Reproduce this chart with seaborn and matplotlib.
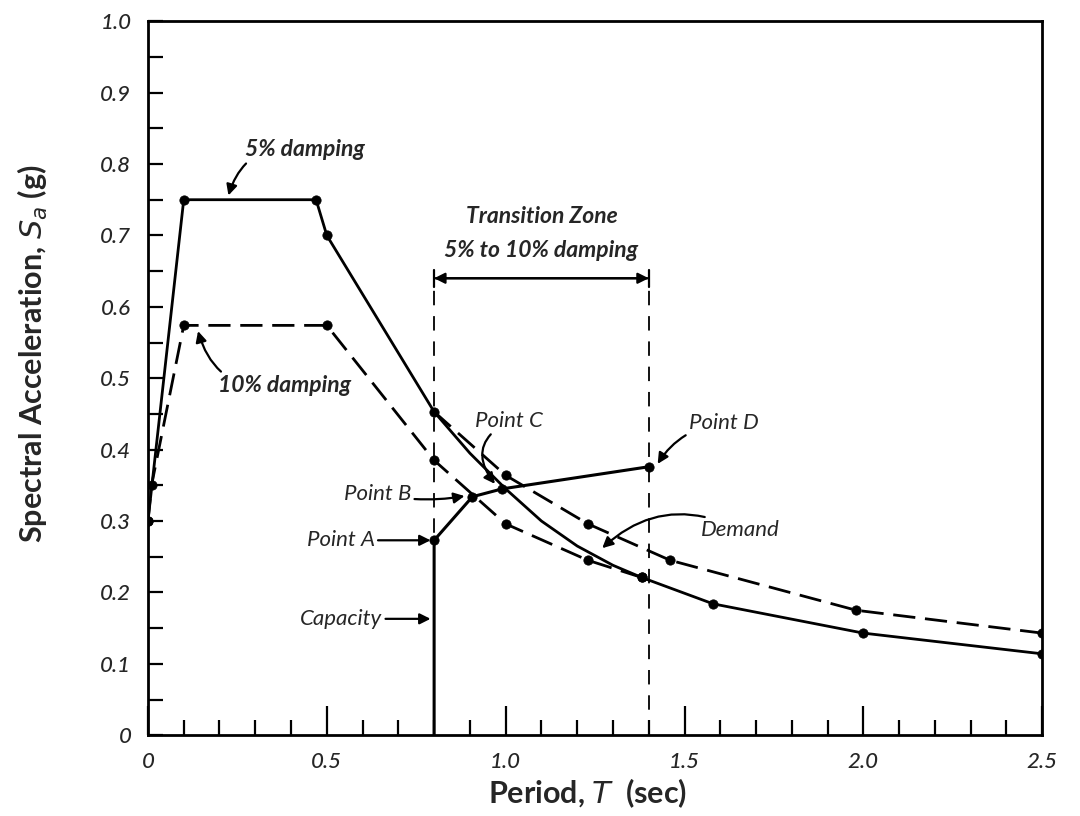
import pandas as pd
import seaborn as sns
import matplotlib.pyplot as plt

sns.set_theme(style="white")
plt.rcParams['font.family'] = ['Lato', 'DejaVu Sans']

# demand curve (solid): 5% damping up to 0.8 s, transition, then 10% damping
demand_T = [0.0, 0.10, 0.47, 0.50, 0.80, 0.90, 1.00, 1.10, 1.20, 1.30, 1.38, 1.58, 2.00, 2.50]
demand_S = [0.30, 0.75, 0.75, 0.70, 0.453, 0.395, 0.345, 0.300, 0.265, 0.238, 0.221, 0.184, 0.143, 0.114]
demand_dot_T = [0.0, 0.10, 0.47, 0.50, 0.80, 1.38, 1.58, 2.00, 2.50]
demand_dot_S = [0.30, 0.75, 0.75, 0.70, 0.453, 0.221, 0.184, 0.143, 0.114]

# 5% damping continued past the transition start (dashed)
d5_T = [0.80, 1.00, 1.23, 1.46, 1.98, 2.50]
d5_S = [0.453, 0.364, 0.296, 0.245, 0.175, 0.143]

# 10% damping spectrum (dashed)
d10_T = [0.0, 0.01, 0.10, 0.50, 0.80, 1.00, 1.23, 1.38]
d10_S = [0.30, 0.35, 0.574, 0.574, 0.385, 0.296, 0.245, 0.221]

# capacity curve
cap_T = [0.80, 0.80, 0.907, 0.99, 1.40]
cap_S = [0.0, 0.273, 0.334, 0.345, 0.376]

# transition zone bounds
zone_T = [0.8, 1.4]

x_labels = ['0', '0.5', '1.0', '1.5', '2.0', '2.5']
y_labels = ['0', '0.1', '0.2', '0.3', '0.4', '0.5', '0.6', '0.7', '0.8', '0.9', '1.0']

fig, ax = plt.subplots(figsize=(10.8, 8.16), dpi=100)
fig.subplots_adjust(left=0.137, right=0.965, bottom=0.099, top=0.974)

demand = pd.DataFrame({'T': demand_T, 'S': demand_S})
dem5 = pd.DataFrame({'T': d5_T, 'S': d5_S})
dem10 = pd.DataFrame({'T': d10_T, 'S': d10_S})
cap = pd.DataFrame({'T': cap_T, 'S': cap_S})

sns.lineplot(data=demand, x='T', y='S', sort=False, estimator=None, color='black', lw=2.0, ax=ax)
sns.lineplot(data=dem5, x='T', y='S', sort=False, estimator=None, color='black', lw=2.0, ax=ax)
ax.lines[-1].set_dashes((8, 3.5))
sns.lineplot(data=dem10, x='T', y='S', sort=False, estimator=None, color='black', lw=2.0, ax=ax)
ax.lines[-1].set_dashes((8, 3.5))
sns.lineplot(data=cap, x='T', y='S', sort=False, estimator=None, color='black', lw=2.2, ax=ax)

# dots
dots = pd.concat([
    pd.DataFrame({'T': demand_dot_T, 'S': demand_dot_S}),
    dem5.iloc[1:],
    dem10,
    cap.iloc[1:],
])
sns.scatterplot(data=dots, x='T', y='S', color='black', s=45, edgecolor='black', zorder=5, ax=ax)

# transition zone dashed verticals
for t in zone_T:
    ax.plot([t, t], [0, 0.64], color='black', lw=1.3, dashes=(8, 6))

ax.set_xlim(0, 2.5)
ax.set_ylim(0, 1.0)
ax.set_xticks([0, 0.5, 1.0, 1.5, 2.0, 2.5])
ax.set_xticks([i / 10 for i in range(26)], minor=True)
ax.set_xticklabels(x_labels, fontsize=16, fontstyle='italic', fontweight='medium')
ax.set_yticks([i / 10 for i in range(11)])
ax.set_yticks([i / 20 for i in range(21)], minor=True)
ax.set_yticklabels(y_labels, fontsize=16, fontstyle='italic', fontweight='medium')
ax.tick_params(bottom=True, left=True, top=False, right=False, which='both', color='black')
ax.tick_params(axis='x', which='major', direction='in', length=21, width=1.6, pad=12)
ax.tick_params(axis='x', which='minor', direction='in', length=11, width=1.6)
ax.tick_params(axis='y', which='both', direction='in', length=11, width=1.6, pad=12)
for sp in ax.spines.values():
    sp.set_color('black')
    sp.set_linewidth(2.0)

ax.set_xlabel('Period, $\\mathit{T}$  (sec)', fontsize=22, fontweight='bold')
ax.set_ylabel('Spectral Acceleration, $S_a$ (g)', fontsize=22, fontweight='bold')
ax.xaxis.set_label_coords(0.492, -0.058)
ax.yaxis.set_label_coords(-0.11, 0.534)

arrow = dict(arrowstyle='-|>', color='black', lw=1.6, mutation_scale=16, shrinkA=0, shrinkB=0)
bi = dict(fontsize=16.5, fontstyle='italic', fontweight='bold')
it = dict(fontsize=16, fontstyle='italic')

ax.annotate('5% damping', xy=(0.225, 0.756), xytext=(0.27, 0.82), ha='left', va='center',
            arrowprops=dict(arrow, connectionstyle='arc3,rad=0.45'), **bi)
ax.annotate('10% damping', xy=(0.14, 0.566), xytext=(0.195, 0.49), ha='left', va='center',
            arrowprops=dict(arrow, connectionstyle='arc3,rad=-0.45'), **bi)

ax.text(1.1, 0.726, 'Transition Zone', ha='center', va='center', **bi)
ax.text(1.1, 0.679, '5% to 10% damping', ha='center', va='center', **bi)
ax.annotate('', xy=(zone_T[0], 0.64), xytext=(zone_T[1], 0.64),
            arrowprops=dict(arrowstyle='|-|', color='black', lw=1.6, mutation_scale=6,
                            shrinkA=0, shrinkB=0))
ax.annotate('', xy=(zone_T[0], 0.64), xytext=(zone_T[1], 0.64),
            arrowprops=dict(arrowstyle='<|-|>', color='black', lw=1.6, mutation_scale=16,
                            shrinkA=0, shrinkB=0))

ax.annotate('Point A', xy=(0.79, 0.273), xytext=(0.634, 0.273), ha='right', va='center',
            arrowprops=arrow, **it)
ax.annotate('Point B', xy=(0.885, 0.335), xytext=(0.736, 0.338), ha='right', va='center',
            arrowprops=dict(arrow, connectionstyle='arc3,rad=0.1'), **it)
ax.annotate('Point C', xy=(0.97, 0.352), xytext=(1.01, 0.44), ha='center', va='center',
            arrowprops=dict(arrow, connectionstyle='arc3,rad=0.6'), **it)
ax.annotate('Point D', xy=(1.425, 0.38), xytext=(1.61, 0.437), ha='center', va='center',
            arrowprops=dict(arrow, connectionstyle='arc3,rad=0.25'), **it)
ax.annotate('Demand', xy=(1.27, 0.262), xytext=(1.545, 0.287), ha='left', va='center',
            arrowprops=dict(arrow, connectionstyle='arc3,rad=0.35'), **it)
ax.annotate('Capacity', xy=(0.79, 0.163), xytext=(0.655, 0.163), ha='right', va='center',
            arrowprops=arrow, **it)

plt.savefig('out.png', dpi=100, facecolor='white')
